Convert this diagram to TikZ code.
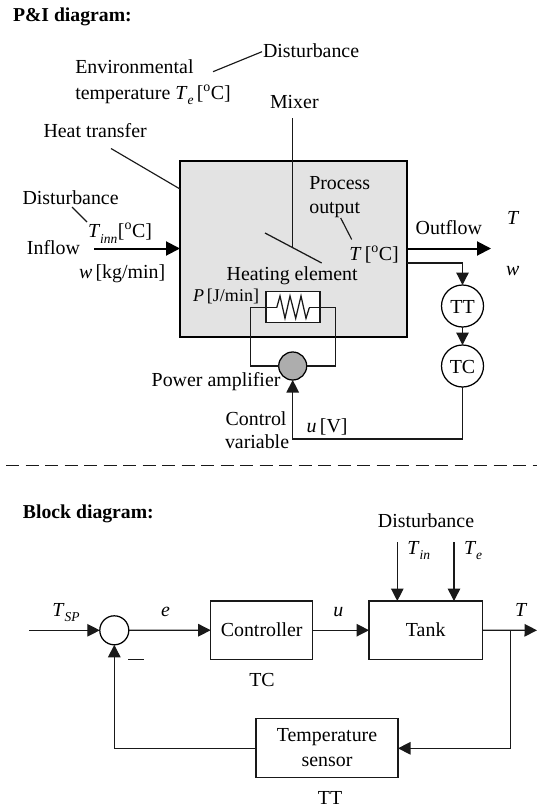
\documentclass[tikz,border=0pt]{standalone}
\usepackage{fontspec}
\setmainfont{Liberation Serif}
\usetikzlibrary{arrows.meta}
\newcommand{\vv}[1]{\textit{#1}}
\newcommand{\subs}[1]{\raisebox{-0.65ex}{\fontsize{13.5}{15}\selectfont\textit{#1}}}
\newcommand{\degc}{[\textsuperscript{o}C]}
\tikzset{
  every node/.style={inner sep=0pt,outer sep=0pt,font=\fontsize{19.9}{22}\selectfont},
  lbl/.style={anchor=base west},
  clbl/.style={anchor=base},
  ttl/.style={anchor=base west,font=\fontsize{19.7}{22}\selectfont\bfseries},
  wire/.style={line width=1.25pt,draw=black!90},
  thickwire/.style={line width=2pt,draw=black},
  leader/.style={line width=1.15pt,draw=black!90},
  arr/.style={wire,-{Triangle[length=12.5pt,width=12.5pt]}},
  bigarr/.style={thickwire,-{Triangle[length=14pt,width=14pt]}},
  blockbox/.style={draw=black!90,line width=1.25pt,rectangle},
  inst/.style={circle,draw=black,line width=1.25pt,minimum size=42pt,fill=white},
  sumc/.style={circle,draw=black,line width=1.25pt,minimum size=29pt,fill=white},
}
\begin{document}
\begin{tikzpicture}[x=1pt,y=-1pt]
\useasboundingbox (0,0) rectangle (537,808);
% --- P&I diagram
\node[ttl] (pititle) at (13,21.5) {P\&I diagram:};
\node[draw=black,line width=2pt,fill=black!11,minimum width=227pt,minimum height=176pt,anchor=north west] (vessel) at (180,160.5) {};
% heater
\node[draw=black!90,line width=1.1pt,fill=white,minimum width=54pt,minimum height=31pt,anchor=north west] (heater) at (266,291.7) {};
\coordinate (rl) at (276.7,307.7);
\coordinate (rr) at (309.3,307.7);
\draw[wire] (rl) -- (280,296) -- (285,318.3) -- (290,296) -- (295.7,318.3) -- (301,296) -- (306,318.3) -- (rr);
% amplifier, transmitter, controller
\node[circle,draw=black,line width=1.25pt,fill=black!32,minimum size=28pt] (amp) at (292.7,366) {};
\node[inst] (tt) at (462.5,306) {};
\node[inst] (tc) at (462.5,366) {};
\node[clbl] (ttt) at (462.5,313) {TT};
\node[clbl] (tct) at (462.5,373) {TC};
\draw[wire] (amp.west) -- (250.7,366) -- (250.7,307.7) -- (rl);
\draw[wire] (amp.east) -- (335.3,366) -- (335.3,307.7) -- (rr);
% mixer
\coordinate (mixtop) at (292.7,118);
\coordinate (mixjoin) at (292.7,247.5);
\coordinate (bladeA) at (265,233);
\coordinate (bladeB) at (321.7,263);
\draw[wire] (mixtop) -- (mixjoin);
\draw[wire] (bladeA) -- (bladeB);
% flows
\coordinate (inflow) at (94,248.5);
\coordinate (outflow) at (491,248.5);
\coordinate (ttbr) at (407,263);
\draw[bigarr] (inflow) -- (vessel.west |- inflow);
\draw[bigarr] (vessel.east |- outflow) -- (outflow);
\draw[arr] (ttbr) -- (462.5,263) -- (tt.north);
\draw[arr] (tt.south) -- (tc.north);
\draw[arr] (tc.south) -- (462.5,439) -- (292.7,439) -- (amp.south);
% leaders
\coordinate (la) at (213,71.7);
\coordinate (lb) at (262,51.7);
\coordinate (lc) at (111,148.5);
\coordinate (ld) at (72,207);
\coordinate (le) at (87,222);
\coordinate (lf) at (340.7,218);
\coordinate (lg) at (351.7,239.5);
\draw[leader] (la) -- (lb);
\draw[leader] (lc) -- (vessel.west |- 0,189);
\draw[leader] (ld) -- (le);
\draw[leader] (lf) -- (lg);
% labels
\node[lbl] (d1) at (263,57) {Disturbance};
\node[lbl] (env) at (75.3,74) {Environmental};
\node[lbl] (tmp) at (75.3,99) {temperature \vv{T}\subs{e}\,\degc};
\node[lbl] (mix) at (270,108) {Mixer};
\node[lbl] (ht) at (43.5,137) {Heat transfer};
\node[lbl] (d2) at (22.5,204) {Disturbance};
\node[lbl] (tinn) at (88,237.5) {\vv{T}\subs{inn}\hspace{0.5pt}\degc};
\node[lbl] (infl) at (27,254) {Inflow};
\node[lbl] (wkg) at (79,278) {\vv{w}\,[kg/min]};
\node[lbl] (proc) at (309.3,189) {Process};
\node[lbl] (outp) at (309.3,213) {output};
\node[lbl] (tout) at (349.3,260) {\vv{T}\,\degc};
\node[lbl] (ofl) at (415.7,234) {Outflow};
\node[lbl] (tfl) at (507,224) {\vv{T}};
\node[lbl] (wfl) at (506,275.7) {\vv{w}};
\node[lbl] (heat) at (226.7,280.7) {Heating element};
\node[lbl,font=\fontsize{18}{20}\selectfont] (pj) at (193,301.7) {\vv{P}\,[J/min]};
\node[lbl] (pa) at (151.7,386.7) {Power amplifier};
\node[lbl] (ctl) at (225.7,425) {Control};
\node[lbl] (var) at (225,448) {variable};
\node[lbl] (uv) at (306.7,432.7) {\vv{u}\,[V]};
% divider
\coordinate (divL) at (6,465.7);
\coordinate (divR) at (537,465.7);
\draw[line width=1.25pt,draw=black!90,dash pattern=on 13pt off 6.5pt] (divL) -- (divR);
% --- Block diagram
\node[ttl] (bdtitle) at (23,518) {Block diagram:};
\node[sumc] (sum) at (114.3,630.3) {};
\node[blockbox,minimum width=102pt,minimum height=58.3pt] (ctrl) at (261.7,630.2) {};
\node[blockbox,minimum width=113.3pt,minimum height=58.3pt] (tank) at (425.7,630.2) {};
\node[blockbox,minimum width=142pt,minimum height=59pt] (sens) at (327,747.8) {};
\node[clbl] (ctrlt) at (261.7,636) {Controller};
\node[clbl] (tankt) at (425.7,636) {Tank};
\node[clbl] (senst1) at (327,741.7) {Temperature};
\node[clbl] (senst2) at (327,766.7) {sensor};
\coordinate (tsp) at (29,630.3);
\coordinate (tend) at (537,630.3);
\coordinate (br) at (510.7,630.3);
\coordinate (dist1) at (397.3,542);
\coordinate (dist2) at (454,542);
\draw[arr] (tsp) -- (sum.west);
\draw[arr] (sum.east) -- (ctrl.west);
\draw[arr] (ctrl.east) -- (tank.west);
\draw[arr] (tank.east) -- (tend);
\draw[arr] (br) -- (510.7,748.3) -- (sens.east |- 0,748.3);
\draw[arr] (sens.west |- 0,748.3) -- (114.3,748.3) -- (sum.south);
\draw[arr] (dist1) -- (dist1 |- tank.north);
\draw[arr] (dist2) -- (dist2 |- tank.north);
\coordinate (mA) at (128.3,659.7);
\coordinate (mB) at (144,659.7);
\draw[line width=1.25pt,draw=black!90] (mA) -- (mB);
\node[clbl] (dist) at (426,527) {Disturbance};
\node[lbl] (tin) at (407.3,554) {\vv{T}\subs{in}};
\node[lbl] (te) at (464,554) {\vv{T}\subs{e}};
\node[lbl] (tspl) at (52.3,616) {\vv{T}\subs{SP}};
\node[lbl] (el) at (161,616) {\vv{e}};
\node[lbl] (ul) at (333.3,616) {\vv{u}};
\node[lbl] (tl) at (515,616) {\vv{T}};
\node[clbl] (tcl) at (262,686.7) {TC};
\node[clbl] (ttl2) at (330,804) {TT};
\end{tikzpicture}
\end{document}
